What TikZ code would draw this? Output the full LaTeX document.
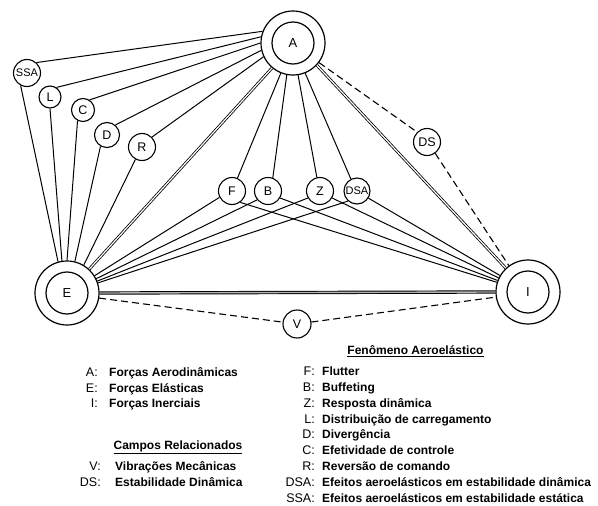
\documentclass[tikz,border=0pt]{standalone}
\usepackage{fontspec}
\setmainfont{Liberation Sans}
\begin{document}
\begin{tikzpicture}[x=1pt,y=-1pt,
  ln/.style={line width=1pt},
  dbl/.style={double, double distance=1.2pt, line width=0.8pt},
  dblh/.style={double=gray!60, double distance=1.4pt, line width=0.95pt},
  dsh/.style={line width=1.1pt, dash pattern=on 7pt off 4pt},
  big/.style={circle, draw, line width=1.2pt, minimum size=64pt, inner sep=0pt,
    font=\fontsize{13}{13}\selectfont,
    path picture={\draw[line width=1.2pt] (path picture bounding box.center) circle[radius=21pt];}},
  sm/.style={circle, draw, line width=1.1pt, minimum size=#1, inner sep=0pt,
    font=\fontsize{12.5}{12.5}\selectfont},
  sm/.default=27pt,
  tri/.style={font=\fontsize{11}{11}\selectfont},
  lbl/.style={anchor=base east, inner sep=0pt, font=\fontsize{12.5}{14}\selectfont},
  txt/.style={anchor=base west, inner sep=0pt, font=\fontsize{12}{14}\selectfont\bfseries},
  hd/.style={anchor=base, inner sep=0pt, font=\fontsize{12}{14}\selectfont\bfseries}
]
\useasboundingbox (0,0) rectangle (598,506);

% main nodes
\node[big] (A) at (293,43) {A};
\node[big] (E) at (67,293) {E};
\node[big] (I) at (528,292) {I};

% small nodes
\node[sm, tri] (SSA) at (27,73) {SSA};
\node[sm=22pt] (L) at (50,97) {L};
\node[sm=23pt] (C) at (83,110) {C};
\node[sm=25pt] (D) at (107,135) {D};
\node[sm] (R) at (142,147) {R};
\node[sm] (F) at (232,191) {F};
\node[sm] (B) at (268,191) {B};
\node[sm] (Z) at (320,191) {Z};
\node[sm=26pt, tri] (DSA) at (357,191) {DSA};
\node[sm] (DS) at (427,142) {DS};
\node[sm=28pt] (V) at (297,324) {V};

% static branch
\draw[ln] (A.159) -- (SSA.48);  \draw[ln] (SSA.243) -- (E.106);
\draw[ln] (A.169) -- (L.56);    \draw[ln] (L.270) -- (E.99);
\draw[ln] (A.180) -- (C.57);    \draw[ln] (C.243) -- (E.90);
\draw[ln] (A.193) -- (D.50);    \draw[ln] (D.240) -- (E.76);
\draw[ln] (A.205) -- (R.45);    \draw[ln] (R.242) -- (E.59);
\draw[dbl] (A.230) -- (E.47);

% dynamic branch
\draw[ln] (A.248) -- (F.67);    \draw[ln] (F.207) -- (E);   \draw[ln] (F.306) -- (I);
\draw[ln] (A.259) -- (B.70);    \draw[ln] (B.219) -- (E);   \draw[ln] (B.330) -- (I);
\draw[ln] (A.279) -- (Z.103);   \draw[ln] (Z.210) -- (E);   \draw[ln] (Z.330) -- (I);
\draw[ln] (A.292) -- (DSA.117); \draw[ln] (DSA.228) -- (E); \draw[ln] (DSA.328) -- (I);
\draw[dbl] (A.317) -- (I.133);

% related fields
\draw[dsh] (A.323) -- (DS.135);
\draw[dsh] (DS.306) -- (I.126);
\draw[dblh] (E.0) -- (I.180);
\draw[dsh] (E.-9) -- (V);
\draw[dsh] (V) -- (I.189);

% legend, left
\node[lbl] (lA) at (98,376) {A:};   \node[txt] (tA) at (109,376) {Forças Aerodinâmicas};
\node[lbl] (lE) at (98,392) {E:};   \node[txt] (tE) at (109,392) {Forças Elásticas};
\node[lbl] (lI) at (98,407.5) {I:}; \node[txt] (tI) at (109,407.5) {Forças Inerciais};
\node[hd] (hC) at (178,449) {\underline{Campos Relacionados}};
\node[lbl] (lV) at (101,470.6) {V:};   \node[txt] (tV) at (115,470.6) {Vibrações Mecânicas};
\node[lbl] (lDS) at (101,486.4) {DS:}; \node[txt] (tDS) at (115,486.4) {Estabilidade Dinâmica};

% legend, right
\node[hd] (hF) at (415.5,354.5) {\underline{Fenômeno Aeroelástico}};
\node[lbl] (l1) at (315,375.5) {F:};   \node[txt] (t1) at (322,375.5) {Flutter};
\node[lbl] (l2) at (315,391.3) {B:};   \node[txt] (t2) at (322,391.3) {Buffeting};
\node[lbl] (l3) at (315,407.2) {Z:};   \node[txt] (t3) at (322,407.2) {Resposta dinâmica};
\node[lbl] (l4) at (315,423.0) {L:};   \node[txt] (t4) at (322,423.0) {Distribuição de carregamento};
\node[lbl] (l5) at (315,438.9) {D:};   \node[txt] (t5) at (322,438.9) {Divergência};
\node[lbl] (l6) at (315,454.7) {C:};   \node[txt] (t6) at (322,454.7) {Efetividade de controle};
\node[lbl] (l7) at (315,470.6) {R:};   \node[txt] (t7) at (322,470.6) {Reversão de comando};
\node[lbl] (l8) at (315,486.4) {DSA:}; \node[txt] (t8) at (322,486.4) {Efeitos aeroelásticos em estabilidade dinâmica};
\node[lbl] (l9) at (315,502.3) {SSA:}; \node[txt] (t9) at (322,502.3) {Efeitos aeroelásticos em estabilidade estática};
\end{tikzpicture}
\end{document}
